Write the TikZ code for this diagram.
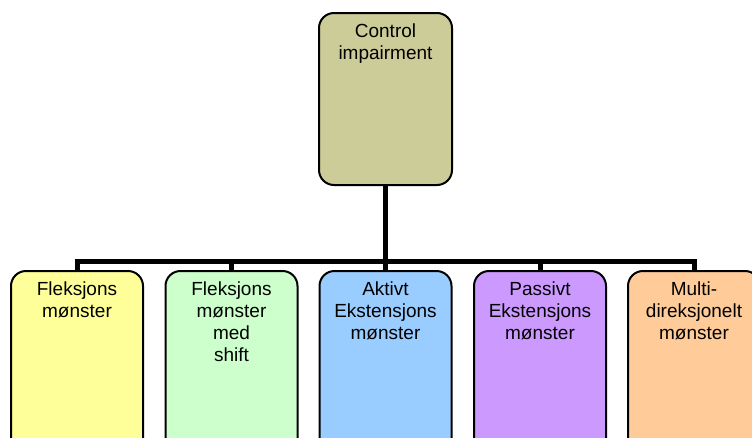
\documentclass[tikz,border=0pt]{standalone}
\usepackage{fontspec}
\setmainfont{Liberation Sans}
\definecolor{olivebox}{HTML}{CCCC99}
\definecolor{yellowbox}{HTML}{FFFF99}
\definecolor{greenbox}{HTML}{CCFFCC}
\definecolor{bluebox}{HTML}{99CCFF}
\definecolor{purplebox}{HTML}{CC99FF}
\definecolor{orangebox}{HTML}{FFCC99}
\newcommand{\boxtext}[3]{\parbox[c][#1pt][t]{#2pt}{\centering\vspace*{11pt}#3}}
\tikzset{
  orgbox/.style={draw=black, line width=2pt, rounded corners=15pt,
    inner sep=0pt, outer sep=0pt, anchor=north,
    font=\fontsize{19}{21.8}\selectfont},
  bus/.style={draw=black, line width=5pt, line join=miter}
}
\begin{document}
\begin{tikzpicture}[x=1pt,y=-1pt]
  \useasboundingbox (0,0) rectangle (752,437);
  \clip (0,0) rectangle (752,437);
  % root
  \node[orgbox, fill=olivebox] (root) at (385.5,13)
    {\boxtext{172}{133}{Control\\impairment}};
  % children
  \node[orgbox, fill=yellowbox] (c1) at (77,271)
    {\boxtext{200}{132}{Fleksjons\\mønster}};
  \node[orgbox, fill=greenbox] (c2) at (231.5,271)
    {\boxtext{200}{132}{Fleksjons\\mønster\\med\\shift}};
  \node[orgbox, fill=bluebox] (c3) at (385.5,271)
    {\boxtext{200}{132}{Aktivt\\Ekstensjons\\mønster}};
  \node[orgbox, fill=purplebox] (c4) at (540,271)
    {\boxtext{200}{132}{Passivt\\Ekstensjons\\mønster}};
  \node[orgbox, fill=orangebox] (c5) at (694,271)
    {\boxtext{200}{132}{Multi-\\direksjonelt\\mønster}};
  % connectors
  \coordinate (hub) at (385.5,261);
  \draw[bus] (root.south) -- (hub);
  \foreach \c in {c1,c2,c3,c4,c5}
    \draw[bus] (hub) -| (\c.north);
\end{tikzpicture}
\end{document}
